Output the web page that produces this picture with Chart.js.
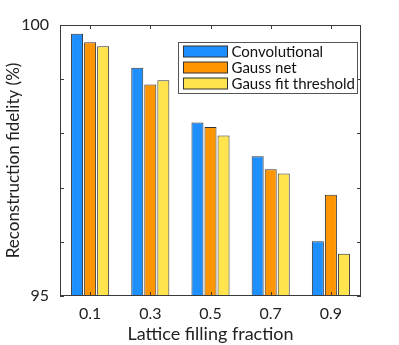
<!DOCTYPE html>
<html>
<head>
<meta charset="utf-8">
<script src="https://cdn.jsdelivr.net/npm/chart.js@4.4.0/dist/chart.umd.min.js"></script>
<style>
  html, body { margin: 0; padding: 0; background: #fff; }
  #wrap { width: 399px; height: 345px; }
</style>
</head>
<body>
<div id="wrap"><canvas id="chart"></canvas></div>
<script>
// Data
const categories = ['0.1', '0.3', '0.5', '0.7', '0.9'];
const convolutional = [99.84, 99.21, 98.20, 97.58, 96.01];
const gaussNet = [99.68, 98.90, 98.12, 97.34, 96.87];
const gaussFitThreshold = [99.61, 98.98, 97.96, 97.26, 95.78];
const seriesLabels = ['Convolutional', 'Gauss net', 'Gauss fit threshold'];
const yTicksLabelled = [95, 100];
const yTitle = 'Reconstruction fidelity (%)';

const FONT = 'Lato, "Open Sans", sans-serif';
const AXIS_COLOR = '#3a3a3a';
const colors = ['#1e8fff', '#ff9500', '#ffe44d'];

// Box around plot, inward ticks, y title and the legend drawn inside the plot
const matlabAxes = {
    id: 'matlabAxes',
    afterDatasetsDraw(chart) {
        const { ctx, chartArea: a, scales } = chart;
        ctx.save();
        ctx.strokeStyle = AXIS_COLOR;
        ctx.lineWidth = 1;
        ctx.strokeRect(a.left + 0.5, a.top + 0.5, a.right - a.left - 1, a.bottom - a.top - 1);

        const len = 4;
        ctx.beginPath();
        scales.y.ticks.forEach(t => {
            const y = Math.round(scales.y.getPixelForValue(t.value)) + 0.5;
            ctx.moveTo(a.left, y); ctx.lineTo(a.left + len, y);
            ctx.moveTo(a.right, y); ctx.lineTo(a.right - len, y);
        });
        categories.forEach((c, i) => {
            const x = Math.round(scales.x.getPixelForValue(i)) + 0.5;
            ctx.moveTo(x, a.bottom); ctx.lineTo(x, a.bottom - len);
            ctx.moveTo(x, a.top); ctx.lineTo(x, a.top + len);
        });
        ctx.stroke();

        // y axis title, centred on the plot box
        ctx.save();
        ctx.translate(14, (a.top + a.bottom) / 2);
        ctx.rotate(-Math.PI / 2);
        ctx.font = '17px ' + FONT;
        ctx.fillStyle = '#222';
        ctx.textAlign = 'center';
        ctx.textBaseline = 'middle';
        ctx.fillText(yTitle, 0, 0);
        ctx.restore();

        // legend
        const boxW = 179, boxH = 51;
        const bx = a.right - 4 - boxW + 0.5, by = a.top + 17 + 0.5;
        ctx.fillStyle = '#fff';
        ctx.fillRect(bx, by, boxW, boxH);
        ctx.strokeStyle = '#555';
        ctx.strokeRect(bx, by, boxW, boxH);
        ctx.font = '15px ' + FONT;
        ctx.textBaseline = 'middle';
        chart.data.datasets.forEach((ds, i) => {
            const cy = by + 9 + i * 16;
            ctx.fillStyle = ds.backgroundColor;
            ctx.fillRect(bx + 5, cy - 5.5, 44, 11);
            ctx.strokeStyle = '#333';
            ctx.strokeRect(bx + 5, cy - 5.5, 44, 11);
            ctx.fillStyle = '#111';
            ctx.fillText(ds.label, bx + 53, cy + 0.5);
        });
        ctx.restore();
    }
};

const datasets = [convolutional, gaussNet, gaussFitThreshold].map((values, i) => ({
    label: seriesLabels[i],
    data: values,
    backgroundColor: colors[i],
    borderColor: '#333',
    borderWidth: 1,
    borderSkipped: 'bottom',
    categoryPercentage: 0.65,
    barPercentage: 0.92
}));

new Chart(document.getElementById('chart'), {
    type: 'bar',
    data: { labels: categories, datasets: datasets },
    options: {
        responsive: true,
        maintainAspectRatio: false,
        animation: false,
        layout: { padding: { top: 25, right: 38, left: 0, bottom: 0 } },
        plugins: {
            legend: { display: false },
            tooltip: { enabled: false }
        },
        scales: {
            x: {
                grid: { display: false },
                border: { display: false },
                ticks: {
                    color: '#222',
                    padding: 0,
                    font: { family: FONT, size: 16 }
                },
                title: {
                    display: true,
                    text: 'Lattice filling fraction',
                    color: '#222',
                    padding: { top: 0, bottom: 0 },
                    font: { family: FONT, size: 18 }
                },
                afterFit(scale) { scale.height = 49; }
            },
            y: {
                min: 95,
                max: 100,
                grid: { display: false },
                border: { display: false },
                ticks: {
                    stepSize: 1,
                    color: '#222',
                    padding: 3,
                    font: { family: FONT, size: 16 },
                    callback: function (value) {
                        return yTicksLabelled.includes(value) ? value : '';
                    }
                },
                title: { display: false },
                afterFit(scale) { scale.width = 60; }
            }
        }
    },
    plugins: [matlabAxes]
});
</script>
</body>
</html>
